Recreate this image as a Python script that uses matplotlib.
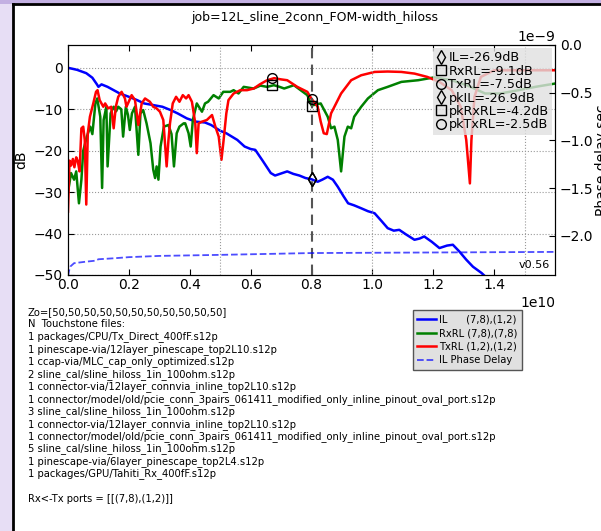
import numpy as np
import matplotlib.pyplot as plt
from matplotlib.lines import Line2D
from matplotlib.patches import Rectangle

# ------ data (frequency in GHz) ------
il_f = [0, 0.3, 0.6, 0.8, 0.95, 1.0, 1.1, 1.3, 1.5, 1.7, 2.0, 2.27, 2.5, 2.8, 3.1, 3.37, 3.6, 3.9,
        4.2, 4.5, 4.7, 5.0, 5.2, 5.56, 5.8, 6.0, 6.15, 6.4, 6.66, 6.8, 7.0, 7.2, 7.4, 7.6, 7.8, 8.0,
        8.2, 8.35, 8.53, 8.7, 8.86, 9.05, 9.2, 9.4, 9.63, 9.85, 10.07, 10.3, 10.5, 10.7, 10.88, 11.1,
        11.38, 11.55, 11.7, 11.95, 12.2, 12.45, 12.64, 12.85, 13.08, 13.3, 13.58, 13.8, 14.2]
il_db = [0, -0.5, -1.3, -2.4, -4.0, -4.6, -4.0, -4.6, -5.4, -6.2, -7.0, -7.8, -8.6, -9.0, -9.4, -10.2,
         -11.0, -12.2, -13.0, -13.2, -13.8, -15.2, -15.8, -17.4, -19.0, -19.6, -19.8, -22.5, -25.4,
         -26.0, -25.5, -25.0, -25.6, -26.0, -26.6, -26.9, -27.5, -27.0, -26.3, -27.0, -28.7, -31.0,
         -32.7, -33.2, -33.9, -34.6, -35.1, -37.0, -38.7, -39.3, -39.1, -40.2, -41.5, -41.2, -40.7,
         -42.0, -43.5, -42.9, -42.7, -44.3, -46.3, -48.0, -49.5, -51.0, -53.0]

rx_f = [0, 0.1, 0.2, 0.27, 0.36, 0.44, 0.5, 0.62, 0.73, 0.8, 0.9, 0.96, 1.06, 1.12, 1.17, 1.26, 1.3,
        1.4, 1.5, 1.58, 1.65, 1.75, 1.81, 1.9, 1.97, 2.03, 2.1, 2.2, 2.31, 2.38, 2.47, 2.58, 2.71, 2.8,
        2.86, 2.91, 2.97, 3.04, 3.15, 3.3, 3.4, 3.48, 3.57, 3.66, 3.8, 3.85, 3.96, 4.03, 4.1, 4.23,
        4.4, 4.5, 4.6, 4.78, 4.95, 5.1, 5.33, 5.44, 5.6, 5.77, 6.1, 6.32, 6.54, 6.76, 6.95, 7.1, 7.42,
        7.64, 7.86, 8.0, 8.3, 8.53, 8.64, 8.75, 8.86, 8.97, 9.08, 9.19, 9.3, 9.4, 9.63, 9.85, 10.18,
        10.5, 10.95, 11.5, 12.04, 12.6, 13.1, 13.7, 14.2, 14.8, 15.35, 16.0]
rx_db = [-30, -25.4, -27.0, -25.0, -32.7, -27.0, -20.0, -16.6, -14.2, -16.0, -8.6, -7.4, -11.8, -29.0,
         -12.6, -9.4, -23.8, -11.0, -9.4, -10.5, -9.4, -10.0, -16.6, -9.4, -11.4, -15.0, -11.0, -9.4,
         -21.0, -11.0, -10.2, -13.4, -18.2, -24.6, -26.6, -23.8, -27.0, -19.0, -14.2, -13.8, -16.0,
         -23.8, -15.8, -14.2, -13.4, -13.4, -15.8, -19.0, -12.6, -8.6, -10.6, -8.6, -8.2, -6.6, -7.4,
         -5.8, -5.8, -5.4, -6.2, -4.6, -5.0, -4.3, -4.6, -4.2, -4.6, -5.0, -4.2, -5.4, -6.6, -9.1,
         -8.6, -11.8, -14.6, -14.2, -17.4, -25.0, -16.6, -14.2, -14.6, -11.8, -9.4, -7.4, -5.4, -4.6,
         -3.4, -3.0, -2.3, -3.0, -4.2, -6.2, -6.2, -5.4, -4.6, -3.8]

tx_f = [0, 0.05, 0.1, 0.16, 0.21, 0.27, 0.32, 0.38, 0.44, 0.5, 0.55, 0.6, 0.65, 0.72, 0.83, 0.92, 0.97,
        1.04, 1.16, 1.22, 1.32, 1.42, 1.5, 1.57, 1.65, 1.76, 1.87, 1.92, 1.97, 2.09, 2.2, 2.31, 2.42,
        2.53, 2.69, 2.8, 2.91, 3.02, 3.13, 3.24, 3.3, 3.35, 3.44, 3.55, 3.66, 3.77, 3.88, 3.96, 4.07,
        4.18, 4.23, 4.29, 4.4, 4.56, 4.73, 4.84, 4.95, 5.04, 5.1, 5.2, 5.27, 5.44, 5.66, 5.88, 6.1, 6.3,
        6.54, 6.77, 7.0, 7.2, 7.53, 7.86, 8.0, 8.2, 8.3, 8.4, 8.5, 8.64, 8.97, 9.3, 9.63, 10.07, 10.5,
        10.95, 11.38, 11.8, 12.2, 12.6, 12.9, 13.08, 13.2, 13.25, 13.35, 13.56, 14.0, 14.8, 16.0]
tx_db = [-34.7, -22.4, -23.6, -22.0, -24.0, -21.6, -22.5, -25.0, -14.6, -14.2, -17.4, -33.0, -15.8,
         -11.8, -8.6, -5.8, -5.4, -7.8, -9.4, -8.6, -9.8, -9.4, -14.6, -9.4, -7.0, -5.8, -7.4, -9.4,
         -8.6, -6.6, -7.8, -13.8, -8.6, -7.4, -8.2, -9.4, -9.8, -10.6, -12.6, -23.8, -17.4, -13.4,
         -8.6, -7.0, -8.2, -6.6, -7.4, -6.6, -8.2, -13.4, -20.6, -13.4, -13.0, -12.6, -11.4, -14.2,
         -16.6, -22.2, -18.2, -11.0, -7.8, -6.2, -5.4, -5.4, -5.0, -4.0, -3.0, -2.5, -2.8, -3.0, -4.6,
         -5.8, -7.5, -9.4, -13.0, -15.8, -16.0, -11.0, -6.2, -3.0, -1.8, -1.0, -0.9, -1.0, -1.4, -2.2,
         -3.4, -5.4, -9.4, -17.4, -27.9, -17.4, -7.0, -2.2, -0.6, -0.6, -0.6]

pd_f = [0, 0.03, 0.08, 0.2, 0.6, 0.9, 1.0, 1.5, 2.0, 3.0, 5.0, 8.0, 12.0, 16.0]
pd_ns = [-2.42, -2.37, -2.32, -2.286, -2.27, -2.26, -2.245, -2.235, -2.223, -2.21, -2.199, -2.18,
         -2.174, -2.168]

mark_f = 8.0
pk_f = 6.7
mk_labels = ['IL=-26.9dB', 'RxRL=-9.1dB', 'TxRL=-7.5dB', 'pkIL=-26.9dB', 'pkRxRL=-4.2dB', 'pkTxRL=-2.5dB']
mk_x = [mark_f, mark_f, mark_f, mark_f, pk_f, pk_f]
mk_y = [-26.9, -9.1, -7.5, -26.9, -4.2, -2.5]
mk_sym = ['d', 's', 'o', 'd', 's', 'o']

leg2_labels = ['IL      (7,8),(1,2)', 'RxRL (7,8),(7,8)', 'TxRL (1,2),(1,2)', 'IL Phase Delay']

info_lines = [
    'Zo=[50,50,50,50,50,50,50,50,50,50,50]',
    'N  Touchstone files:',
    '1 packages/CPU/Tx_Direct_400fF.s12p',
    '1 pinescape-via/12layer_pinescape_top2L10.s12p',
    '1 ccap-via/MLC_cap_only_optimized.s12p',
    '2 sline_cal/sline_hiloss_1in_100ohm.s12p',
    '1 connector-via/12layer_connvia_inline_top2L10.s12p',
    '1 connector/model/old/pcie_conn_3pairs_061411_modified_only_inline_pinout_oval_port.s12p',
    '3 sline_cal/sline_hiloss_1in_100ohm.s12p',
    '1 connector-via/12layer_connvia_inline_top2L10.s12p',
    '1 connector/model/old/pcie_conn_3pairs_061411_modified_only_inline_pinout_oval_port.s12p',
    '5 sline_cal/sline_hiloss_1in_100ohm.s12p',
    '1 pinescape-via/6layer_pinescape_top2L4.s12p',
    '1 packages/GPU/Tahiti_Rx_400fF.s12p',
    '',
    'Rx<-Tx ports = [[(7,8),(1,2)]]',
]

W, H = 601, 531
fig = plt.figure(figsize=(W / 100, H / 100), dpi=100)
fig.patch.set_facecolor('#e7def5')
# window frame
fig.patches.append(Rectangle((0, 1 - 4 / H), 1, 4 / H, transform=fig.transFigure,
                             facecolor='#c3b0e2', edgecolor='none', zorder=-5))
fig.patches.append(Rectangle((13 / W, 0), 1, 1 - 5 / H, transform=fig.transFigure,
                             facecolor='white', edgecolor='none', zorder=-4))
fig.add_artist(Line2D([13 / W, 13 / W], [0, 1 - 4 / H], transform=fig.transFigure, color='black', lw=2))
fig.add_artist(Line2D([13 / W, 1], [1 - 4 / H, 1 - 4 / H], transform=fig.transFigure, color='black', lw=2))

ax = fig.add_axes([68 / W, 1 - 275 / H, (555 - 68) / W, (275 - 45) / H])
ax.patch.set_alpha(0)
ax2 = ax.twinx()

f = lambda g: np.array(g) * 1e9
l1, = ax.plot(f(il_f), il_db, color='blue', lw=1.8)
l2, = ax.plot(f(rx_f), rx_db, color='green', lw=1.8)
l3, = ax.plot(f(tx_f), tx_db, color='red', lw=1.8)
l4, = ax2.plot(f(pd_f), np.array(pd_ns) * 1e-9, color='blue', ls='--', lw=1.3, alpha=0.7)

mk_handles = []
for x, y, m in zip(mk_x, mk_y, mk_sym):
    h, = ax.plot(x * 1e9, y, ls='none', marker=m, mfc='none', mec='black', ms=7, mew=1, zorder=5)
    mk_handles.append(h)

ax.axvline(mark_f * 1e9, color='#555555', ls='--', lw=1.5, dashes=(5, 3))
for g in [5, 10, 15]:
    ax.axvline(g * 1e9, color='#999999', ls=':', lw=0.8)
ax.yaxis.grid(True, ls=':', color='#999999', lw=0.8)

ax.set_xlim(0, 1.5995e10)
ax.set_ylim(-50, 5.5)
ax2.set_ylim(-2.41e-9, 0)
ax.set_xticks(np.arange(0, 1.5e10, 0.2e10))
ax.set_yticks([-50, -40, -30, -20, -10, 0])
ax2.set_yticks(np.array([-2.0, -1.5, -1.0, -0.5, 0.0]) * 1e-9)
ax.tick_params(direction='in', top=True, labelsize=10, length=4)
ax.tick_params(axis='x', pad=2)
ax2.tick_params(direction='in', labelsize=10, length=4)
ax.xaxis.get_offset_text().set_fontsize(10)
ax2.yaxis.get_offset_text().set_fontsize(10)
ax.set_ylabel('dB', fontsize=10)
ax2.set_ylabel('Phase delay sec', fontsize=10, labelpad=1)

fig.text(315 / W, 1 - 17 / H, 'job=12L_sline_2conn_FOM-width_hiloss', ha='center', va='center', fontsize=9)
ax.text(0.99, 0.02, 'v0.56', transform=ax.transAxes, ha='right', va='bottom', fontsize=8)

leg1 = ax.legend(mk_handles, mk_labels, loc='upper right', numpoints=1, fontsize=9.2, labelspacing=0.03,
                 handlelength=0.7, handletextpad=0.25, borderpad=0.3, borderaxespad=0.2,
                 fancybox=False, framealpha=0.8)
leg1.get_frame().set_facecolor('#e0e0e0')
leg1.get_frame().set_edgecolor('none')

leg2 = ax2.legend([l1, l2, l3, l4], leg2_labels, loc='upper left', bbox_to_anchor=(413 / W, 1 - 310 / H),
                  bbox_transform=fig.transFigure, borderaxespad=0, fontsize=7.2, labelspacing=0.35,
                  handlelength=1.9, handletextpad=0.3, borderpad=0.45, fancybox=False, framealpha=1)
leg2.get_frame().set_facecolor('#e0e0e0')
leg2.get_frame().set_edgecolor('#555555')

for i, line in enumerate(info_lines):
    if line:
        fig.text(28 / W, 1 - (312 + i * 12.45) / H, line, ha='left', va='center', fontsize=7.2)

fig.savefig('out.png', dpi=100, facecolor=fig.get_facecolor())
